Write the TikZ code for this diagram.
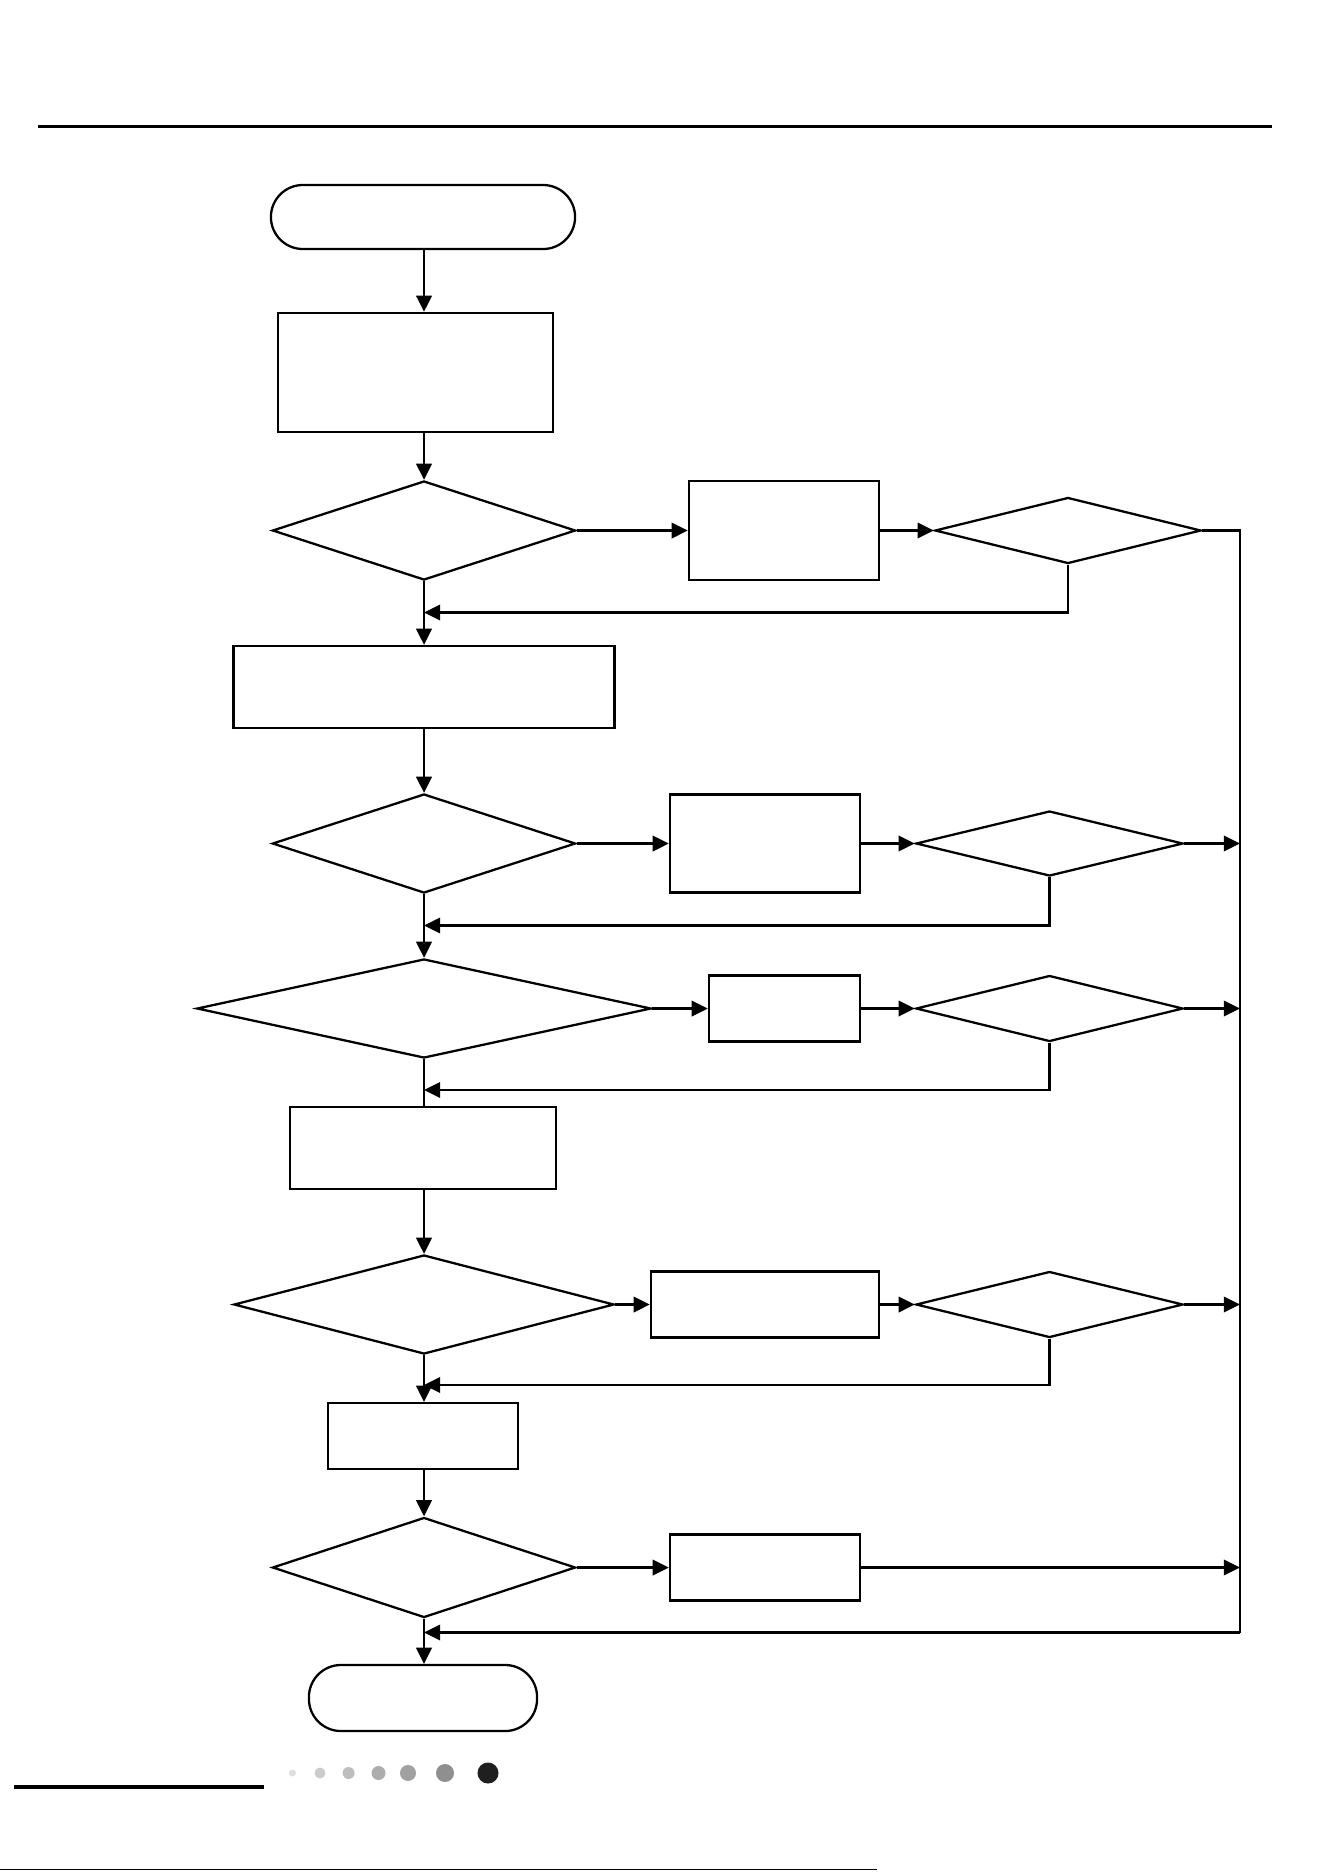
\documentclass[tikz,border=0pt]{standalone}
\usetikzlibrary{arrows.meta,shapes.geometric}

\tikzset{
  box/.style={draw,rectangle,inner sep=0pt},
  dec/.style={draw,diamond,inner sep=0pt},
  term/.style={draw,rectangle,rounded corners=0.32cm,inner sep=0pt},
  arr/.style={-{Triangle[length=4.6pt,width=4.4pt]}}
}

\begin{document}
\begin{tikzpicture}[x=0.01cm,y=-0.01cm,line width=0.65pt]
  \useasboundingbox (0,0) rectangle (1324,1872);
  \draw[line width=1.1pt] (38,126.5) -- (1271.5,126.5);
  % main column
  \node[term,minimum width=3.04cm,minimum height=0.64cm] (start) at (423,217) {};
  \node[box,minimum width=2.75cm,minimum height=1.19cm] (setup) at (415.5,372.5) {};
  \node[dec,minimum width=3.03cm,minimum height=0.99cm] (test1) at (424,530.5) {};
  \node[box,minimum width=3.81cm,minimum height=0.82cm] (stage2) at (424,687) {};
  \node[dec,minimum width=3.03cm,minimum height=0.99cm] (test2) at (424,843.5) {};
  \node[dec,minimum width=4.54cm,minimum height=0.99cm] (test3) at (424,1008.5) {};
  \node[box,minimum width=2.66cm,minimum height=0.82cm] (stage3) at (423,1148) {};
  \node[dec,minimum width=3.80cm,minimum height=0.99cm] (test4) at (424,1304.5) {};
  \node[box,minimum width=1.90cm,minimum height=0.66cm] (stage4) at (423,1436) {};
  \node[dec,minimum width=3.03cm,minimum height=1.00cm] (test5) at (424,1567.5) {};
  \node[term,minimum width=2.28cm,minimum height=0.66cm] (stop) at (423,1698) {};
  % side branches
  \node[box,minimum width=1.90cm,minimum height=0.99cm] (fix1) at (784,530.5) {};
  \node[dec,minimum width=2.66cm,minimum height=0.66cm] (retest1) at (1068,530.5) {};
  \node[box,minimum width=1.90cm,minimum height=0.98cm] (fix2) at (765,843.5) {};
  \node[dec,minimum width=2.67cm,minimum height=0.65cm] (retest2) at (1049.5,843.5) {};
  \node[box,minimum width=1.51cm,minimum height=0.66cm] (fix3) at (784.5,1008.5) {};
  \node[dec,minimum width=2.67cm,minimum height=0.66cm] (retest3) at (1049.5,1008.5) {};
  \node[box,minimum width=2.28cm,minimum height=0.66cm] (fix4) at (765,1304.5) {};
  \node[dec,minimum width=2.67cm,minimum height=0.66cm] (retest4) at (1049.5,1304.5) {};
  \node[box,minimum width=1.90cm,minimum height=0.66cm] (fix5) at (765,1567.5) {};
  \coordinate (bustop) at (1240,530.5); \coordinate (busbot) at (1240,1632.5);
  \coordinate (back1) at (424,612.5); \coordinate (back2) at (424,925.5);
  \coordinate (back3) at (424,1090); \coordinate (back4) at (424,1385);
  % main flow
  \draw[arr] (start.south -| test1.north) -- (test1.north |- setup.north);
  \draw[arr] (setup.south -| test1.north) -- (test1.north);
  \draw[arr] (test1.south) -- (stage2.north);
  \draw[arr] (stage2.south) -- (test2.north);
  \draw[arr] (test2.south) -- (test3.north);
  \draw (test3.south) -- (test3.south |- stage3.north);
  \draw[arr] (stage3.south -| test4.north) -- (test4.north);
  \draw[arr] (test4.south) -- (test4.south |- stage4.north);
  \draw[arr] (stage4.south -| test5.north) -- (test5.north);
  \draw[arr] (test5.south) -- (test5.south |- stop.north);
  % branches
  \draw[arr] (test1.east) -- (fix1.west); \draw[arr] (fix1.east) -- (retest1.west);
  \draw[arr] (test2.east) -- (fix2.west); \draw[arr] (fix2.east) -- (retest2.west);
  \draw[arr] (test3.east) -- (fix3.west); \draw[arr] (fix3.east) -- (retest3.west);
  \draw[arr] (test4.east) -- (fix4.west); \draw[arr] (fix4.east) -- (retest4.west);
  \draw[arr] (test5.east) -- (fix5.west);
  \draw (retest1.east) -- (bustop) -- (busbot);
  \draw[arr] (retest2.east) -- (retest2.east -| bustop);
  \draw[arr] (retest3.east) -- (retest3.east -| bustop);
  \draw[arr] (retest4.east) -- (retest4.east -| bustop);
  \draw[arr] (fix5.east) -- (fix5.east -| bustop);
  \draw[arr] (busbot) -- (busbot -| test5.south);
  % loops back
  \draw[arr] (retest1.south) |- (back1);
  \draw[arr] (retest2.south) |- (back2);
  \draw[arr] (retest3.south) |- (back3);
  \draw[arr] (retest4.south) |- (back4);
  % page footer
  \draw[line width=1.1pt] (14,1787) -- (264,1787);
  \fill[black!13] (292.5,1773) circle (0.035cm); \fill[black!20] (320,1773) circle (0.055cm);
  \fill[black!26] (348.6,1773) circle (0.06cm); \fill[black!32] (378.5,1773) circle (0.07cm);
  \fill[black!37] (408,1773) circle (0.08cm); \fill[black!44] (445,1773) circle (0.09cm);
  \fill[black!88] (488,1773) circle (0.105cm);
  \draw[line width=0.5pt] (0,1869.5) -- (877,1869.5);
\end{tikzpicture}
\end{document}
